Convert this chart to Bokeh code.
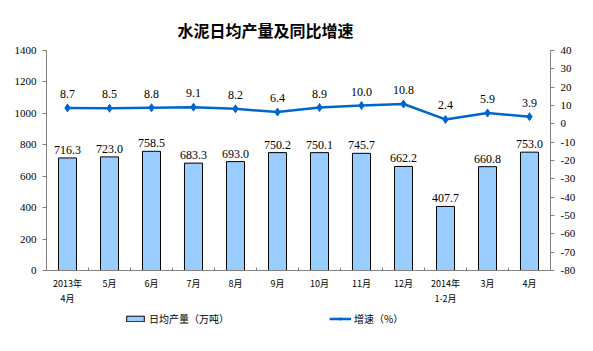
from bokeh.plotting import figure
from bokeh.models import (Range1d, LinearAxis, FixedTicker, ColumnDataSource,
                          Legend, LegendItem, LabelSet)
from bokeh.embed import file_html
from bokeh.resources import INLINE

categories = ["2013年\n4月", "5月", "6月", "7月", "8月", "9月", "10月", "11月",
              "12月", "2014年\n1-2月", "3月", "4月"]
output = [716.3, 723.0, 758.5, 683.3, 693.0, 750.2, 750.1, 745.7, 662.2, 407.7, 660.8, 753.0]
growth = [8.7, 8.5, 8.8, 9.1, 8.2, 6.4, 8.9, 10.0, 10.8, 2.4, 5.9, 3.9]
left_ticks = [0, 200, 400, 600, 800, 1000, 1200, 1400]
right_ticks = [40, 30, 20, 10, 0, -10, -20, -30, -40, -50, -60, -70, -80]

L_MIN, L_MAX = 0, 1400
R_MIN, R_MAX = -80, 40

# layout: axis area 220px tall, extra 70px below it for x labels and legend
AXIS_PX = 220
EXTRA_PX = 70
l_start = L_MIN - EXTRA_PX * (L_MAX - L_MIN) / AXIS_PX
r_start = R_MIN - EXTRA_PX * (R_MAX - R_MIN) / AXIS_PX

xs = list(range(len(categories)))
src = ColumnDataSource(dict(
    x=xs, out=output, gr=growth,
    out_lbl=[f"{v:.1f}" for v in output],
    gr_lbl=[f"{v:.1f}" for v in growth],
))

p = figure(frame_width=504, frame_height=AXIS_PX + EXTRA_PX, output_backend="svg",
           toolbar_location=None,
           x_range=Range1d(-0.5, len(categories) - 0.5), y_range=Range1d(l_start, L_MAX),
           min_border_left=46, min_border_right=43, min_border_top=50,
           min_border_bottom=0)
p.outline_line_color = None
p.xgrid.visible = False
p.ygrid.visible = False
p.background_fill_color = "white"
p.border_fill_color = "white"

p.title.text = "水泥日均产量及同比增速"
p.title.align = "left"
p.title.offset = 131
p.title.text_font = "Noto Sans CJK SC"
p.title.text_font_size = "16px"
p.title.text_font_style = "bold"
p.title.text_color = "#000000"
p.title.standoff = 17

p.extra_y_ranges = {"r": Range1d(r_start, R_MAX)}

gray = "#808080"
# left axis
ya = p.yaxis[0]
ya.ticker = FixedTicker(ticks=left_ticks)
ya.bounds = (L_MIN, L_MAX)
ya.axis_line_color = gray
ya.major_tick_line_color = gray
ya.major_tick_out = 4
ya.major_tick_in = 0
ya.minor_tick_line_color = None
ya.major_label_text_font = "Liberation Serif"
ya.major_label_text_font_size = "11px"
ya.major_label_text_color = "#000000"
ya.major_label_standoff = 6

# x axis, drawn at value 0
xa = p.xaxis[0]
xa.fixed_location = L_MIN
xa.ticker = FixedTicker(ticks=xs, minor_ticks=[i + 0.5 for i in range(-1, len(categories))])
xa.major_label_overrides = {i: c for i, c in enumerate(categories)}
xa.axis_line_color = gray
xa.major_tick_line_color = None
xa.major_tick_in = 0
xa.major_tick_out = 0
xa.minor_tick_line_color = gray
xa.minor_tick_in = 3
xa.minor_tick_out = 0
xa.major_label_text_font = "Noto Sans CJK SC"
xa.major_label_text_font_size = "9px"
xa.major_label_text_color = "#000000"
xa.major_label_standoff = 6

# right axis
ra = LinearAxis(y_range_name="r", ticker=FixedTicker(ticks=right_ticks))
ra.bounds = (R_MIN, R_MAX)
ra.major_label_overrides = {t: str(t) for t in right_ticks}
ra.axis_line_color = gray
ra.major_tick_line_color = gray
ra.major_tick_out = 4
ra.major_tick_in = 0
ra.minor_tick_line_color = None
ra.major_label_text_font = "Liberation Serif"
ra.major_label_text_font_size = "11px"
ra.major_label_text_color = "#000000"
ra.major_label_standoff = 6
p.add_layout(ra, "right")

bars = p.vbar(x="x", top="out", bottom=L_MIN, width=0.43, source=src,
              fill_color="#99CCFF", line_color="#000000", line_width=1)
ln = p.line(x="x", y="gr", source=src, y_range_name="r",
            line_color="#0066CC", line_width=2.5)
mk = p.scatter(x="x", y="gr", source=src, y_range_name="r", marker="diamond",
               size=8, fill_color="#0066CC", line_color="#0066CC")

p.add_layout(LabelSet(x="x", y="out", text="out_lbl", source=src,
                      text_align="center", text_baseline="bottom", y_offset=4,
                      text_font="Liberation Sans", text_font_size="12px",
                      text_color="#000000"))
p.add_layout(LabelSet(x="x", y="gr", text="gr_lbl", source=src, y_range_name="r",
                      text_align="center", text_baseline="bottom", y_offset=10,
                      text_font="Liberation Sans", text_font_size="12px",
                      text_color="#000000"))

legend = Legend(items=[LegendItem(label="日均产量（万吨）", renderers=[bars]),
                       LegendItem(label="增速（%）", renderers=[ln, mk])],
                orientation="horizontal", location=(78, 14),
                label_text_font="Noto Sans CJK SC", label_text_font_size="10px",
                label_text_color="#000000", glyph_width=22, glyph_height=7,
                label_standoff=3, label_height=12, spacing=100,
                border_line_color=None, background_fill_alpha=0,
                padding=2, margin=0)
p.add_layout(legend, "center")

open("out.html", "w").write(file_html(p, INLINE))
